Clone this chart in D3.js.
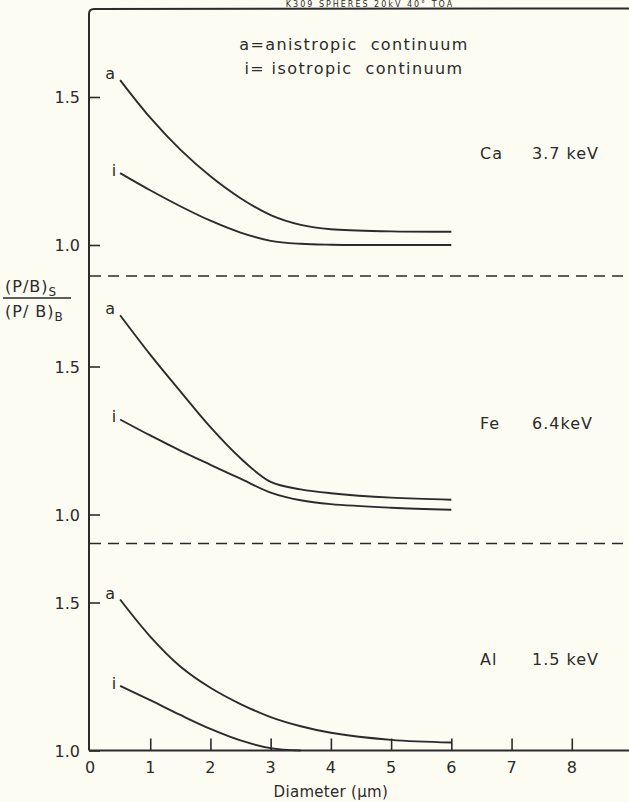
<!DOCTYPE html>
<html>
<head>
<meta charset="utf-8">
<script src="https://cdn.jsdelivr.net/npm/d3@7/dist/d3.min.js"></script>
<style>
  html, body { margin: 0; padding: 0; background: #fcfcf3; }
  svg { display: block; }
  text { font-family: "DejaVu Sans", sans-serif; fill: #2b2b2b; }
</style>
</head>
<body>
<div id="chart"></div>
<script>
// diameters (µm) where the curves were read
const diam = [0.5, 1, 1.5, 2, 2.5, 3, 3.5, 4, 5, 6];
const diamAlI = [0.5, 1, 1.5, 2, 2.5, 3, 3.5];

// Ca 3.7 keV
const caA = [1.557, 1.43, 1.322, 1.232, 1.158, 1.101, 1.068, 1.053, 1.046, 1.045];
const caI = [1.243, 1.185, 1.131, 1.082, 1.042, 1.014, 1.004, 1.001, 1.0, 1.0];
// Fe 6.4 keV
const feA = [1.673, 1.54, 1.416, 1.295, 1.19, 1.11, 1.085, 1.072, 1.057, 1.05];
const feI = [1.321, 1.267, 1.216, 1.168, 1.121, 1.074, 1.048, 1.035, 1.023, 1.016];
// Al 1.5 keV
const alA = [1.51, 1.385, 1.284, 1.212, 1.157, 1.113, 1.082, 1.06, 1.036, 1.027];
const alI = [1.218, 1.17, 1.12, 1.073, 1.034, 1.008, 1.0];

const xTicks = [0, 1, 2, 3, 4, 5, 6, 7, 8];
const yTicks = [1.0, 1.5];

const panels = [
  { element: 'Ca', energy: '3.7 keV', a: caA, i: caI, xi: diam, base: 245 },
  { element: 'Fe', energy: '6.4keV', a: feA, i: feI, xi: diam, base: 514.5 },
  { element: 'Al', energy: '1.5 keV', a: alA, i: alI, xi: diamAlI, base: 750.5 }
];

const width = 629, height = 802;
const ink = '#2b2b2b';
const pxPerUnit = 296;

const svg = d3.select('#chart').append('svg')
  .attr('width', width)
  .attr('height', height);

const x = d3.scaleLinear().domain([0, 9]).range([90, 632]);
const axisY = 750.5;

// title squeezed above the frame (cut off in the scan)
svg.append('text')
  .attr('x', 370).attr('y', 7)
  .attr('text-anchor', 'middle')
  .style('font-size', '8px')
  .style('letter-spacing', '2px')
  .text('K309 SPHERES   20kV   40° TOA');

// frame: top line + left axis with rounded corner
svg.append('path')
  .attr('d', `M${x(0) - 1},${axisY} L${x(0) - 1},14 Q${x(0) - 1},9 ${x(0) + 4},9 L${width},8.5`)
  .attr('fill', 'none')
  .attr('stroke', ink)
  .attr('stroke-width', 2);

// x axis with inward ticks
const xAxis = svg.append('g')
  .attr('transform', `translate(0,${axisY})`)
  .call(d3.axisTop(x).tickValues(xTicks.filter(d => d > 0)).tickSize(12).tickFormat(''));
xAxis.select('.domain').remove();
xAxis.selectAll('.tick line').attr('stroke', ink).attr('stroke-width', 1.6);
svg.append('line')
  .attr('x1', x(0) - 1).attr('x2', width)
  .attr('y1', axisY).attr('y2', axisY)
  .attr('stroke', ink).attr('stroke-width', 2);

svg.selectAll('.xlab')
  .data(xTicks)
  .enter().append('text')
  .attr('class', 'xlab')
  .attr('x', d => x(d))
  .attr('y', 773)
  .attr('text-anchor', 'middle')
  .style('font-size', '16px')
  .text(d => d);

svg.append('text')
  .attr('x', x(4)).attr('y', 797)
  .attr('text-anchor', 'middle')
  .style('font-size', '15px')
  .style('letter-spacing', '0.3px')
  .text('Diameter (µm)');

// separators
[276, 543.5].forEach(yy => {
  svg.append('line')
    .attr('x1', x(0)).attr('x2', width)
    .attr('y1', yy).attr('y2', yy)
    .attr('stroke', ink)
    .attr('stroke-width', 1.5)
    .attr('stroke-dasharray', '11,7');
});

const line = d3.line().curve(d3.curveCatmullRom.alpha(0.5));

panels.forEach(p => {
  const y = d3.scaleLinear().domain([1, 1.5]).range([p.base, p.base - pxPerUnit * 0.5]);

  const yAxis = svg.append('g')
    .attr('transform', `translate(${x(0) - 1},0)`)
    .call(d3.axisRight(y).tickValues(yTicks).tickSize(11).tickFormat(''));
  yAxis.select('.domain').remove();
  yAxis.selectAll('.tick line').attr('stroke', ink).attr('stroke-width', 1.6);

  svg.selectAll(null)
    .data(yTicks)
    .enter().append('text')
    .attr('x', 80)
    .attr('y', d => y(d) + 6)
    .attr('text-anchor', 'end')
    .style('font-size', '16px')
    .text(d => d3.format('.1f')(d));

  const aPts = diam.map((d, k) => [x(d), y(p.a[k])]);
  const iPts = p.xi.map((d, k) => [x(d), y(p.i[k])]);

  svg.append('path').attr('d', line(aPts))
    .attr('fill', 'none').attr('stroke', ink).attr('stroke-width', 1.9);
  svg.append('path').attr('d', line(iPts))
    .attr('fill', 'none').attr('stroke', ink).attr('stroke-width', 1.9);

  svg.append('text')
    .attr('x', aPts[0][0] - 5).attr('y', aPts[0][1] - 1)
    .attr('text-anchor', 'end')
    .style('font-size', '16px')
    .text('a');
  svg.append('text')
    .attr('x', iPts[0][0] - 4).attr('y', iPts[0][1] + 3)
    .attr('text-anchor', 'end')
    .style('font-size', '16px')
    .text('i');

  const labY = p.base - pxPerUnit * 0.29;
  svg.append('text')
    .attr('x', 480).attr('y', labY)
    .style('font-size', '16px')
    .style('letter-spacing', '1px')
    .text(p.element);
  svg.append('text')
    .attr('x', 532).attr('y', labY)
    .style('font-size', '16px')
    .style('letter-spacing', '1px')
    .text(p.energy);
});

// legend text
svg.append('text')
  .attr('x', 354).attr('y', 50)
  .attr('text-anchor', 'middle')
  .style('font-size', '16px')
  .style('letter-spacing', '1.4px')
  .style('white-space', 'pre')
  .text('a=anistropic  continuum');
svg.append('text')
  .attr('x', 354).attr('y', 74)
  .attr('text-anchor', 'middle')
  .style('font-size', '16px')
  .style('letter-spacing', '1.4px')
  .style('white-space', 'pre')
  .text('i= isotropic  continuum');

// y axis label (fraction)
const yl = svg.append('g');
const num = yl.append('text').attr('x', 5).attr('y', 292)
  .style('font-size', '16px').style('letter-spacing', '1px');
num.append('tspan').text('(P/B)');
num.append('tspan').attr('dy', 4).style('font-size', '12px').text('S');
yl.append('line')
  .attr('x1', 3).attr('x2', 71)
  .attr('y1', 298).attr('y2', 298)
  .attr('stroke', ink).attr('stroke-width', 1.3);
const den = yl.append('text').attr('x', 5).attr('y', 317)
  .style('font-size', '16px').style('letter-spacing', '1px');
den.append('tspan').text('(P/ B)');
den.append('tspan').attr('dy', 4).style('font-size', '12px').text('B');
</script>
</body>
</html>
